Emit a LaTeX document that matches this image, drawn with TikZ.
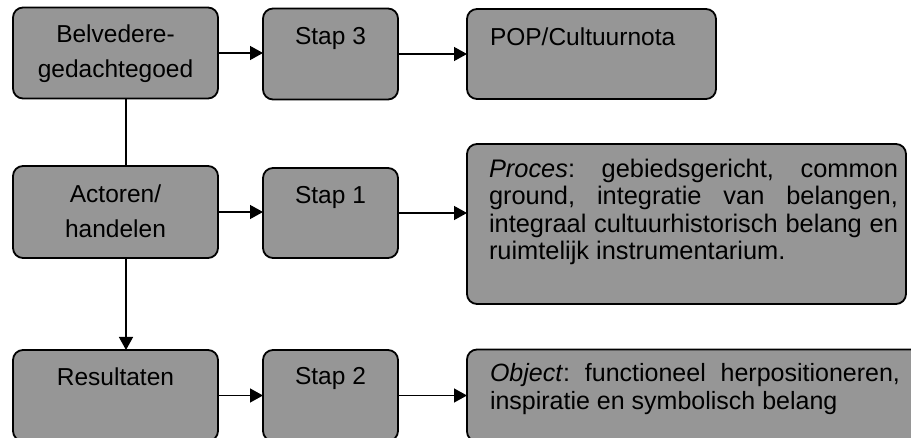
\documentclass[tikz,border=0pt]{standalone}
\usepackage{fontspec}
\setmainfont{Liberation Sans}
\usetikzlibrary{arrows.meta, positioning}
\definecolor{boxgray}{RGB}{150,150,150}
\hyphenpenalty=10000
\frenchspacing

\begin{document}
\begin{tikzpicture}[x=1pt, y=-1pt,
    box/.style={draw=black, line width=1.8pt, fill=boxgray, rounded corners=10pt, inner sep=0pt, outer sep=0pt},
    lbl/.style={inner sep=0pt, outer sep=0pt, align=center, font=\fontsize{24.5}{35}\selectfont},
    para/.style={inner sep=0pt, outer sep=0pt, text width=409pt, align=justify, font=\fontsize{25}{27.5}\selectfont},
    link/.style={line width=1.3pt, -{Triangle[length=13pt, width=14pt]}}]
    \path[use as bounding box, clip] (0,0) rectangle (911,438);

    % Top row
    \node[box, minimum width=205pt, minimum height=91pt] (bel) at (115.5,53) {};
    \node[box, minimum width=135pt, minimum height=91pt] (s3) at (330.5,54) {};
    \node[box, minimum width=249pt, minimum height=90pt] (pop) at (591.5,54) {};
    \node[lbl, below=17pt of bel.north] (belt) {Belvedere-\\gedachtegoed};
    \node[lbl, below=19pt of s3.north] (s3t) {Stap 3};
    \node[lbl, below right=18.5pt and 23pt of pop.north west] (popt) {POP/Cultuurnota};

    % Middle row
    \node[box, minimum width=205pt, minimum height=92pt] (act) at (115.5,212) {};
    \node[box, minimum width=135pt, minimum height=90pt] (s1) at (330.5,213) {};
    \node[box, minimum width=439pt, minimum height=160pt] (proc) at (686.5,224) {};
    \node[lbl, below=18.5pt of act.north] (actt) {Actoren/\\handelen};
    \node[lbl, below=18.5pt of s1.north] (s1t) {Stap 1};
    \node[para, font=\fontsize{25.4}{27.5}\selectfont, below right=15pt and 22pt of proc.north west] (proct)
        {\textit{Proces}: gebiedsgericht, common\linebreak ground, integratie van belangen,\linebreak integraal cultuurhistorisch belang en\linebreak ruimtelijk instrumentarium.};

    % Bottom row
    \node[box, minimum width=205pt, minimum height=91pt] (res) at (115.5,395.5) {};
    \node[box, minimum width=135pt, minimum height=91pt] (s2) at (330.5,395.5) {};
    \node[box, minimum width=468pt, minimum height=92pt] (obj) at (701,395.5) {};
    \node[lbl, below=17.5pt of res.north] (rest) {Resultaten};
    \node[lbl, below=17.5pt of s2.north] (s2t) {Stap 2};
    \node[para, text width=410pt, below right=14pt and 23pt of obj.north west] (objt)
        {\textit{Object}: functioneel herpositioneren,\linebreak inspiratie en symbolisch belang};

    % Connectors
    \draw[link] (bel.east) -- (bel.east -| s3.west);
    \draw[link] (s3.east) -- (s3.east -| pop.west);
    \draw[link] (act.east) -- (act.east -| s1.west);
    \draw[link] (s1.east) -- (s1.east -| proc.west);
    \draw[link] (res.east) -- (res.east -| s2.west);
    \draw[link] (s2.east) -- (s2.east -| obj.west);
    \draw[line width=1.3pt] ([xshift=10.5pt]bel.south) -- ([xshift=10.5pt]act.north);
    \draw[link] ([xshift=10.5pt]act.south) -- ([xshift=10.5pt]res.north);
\end{tikzpicture}
\end{document}
